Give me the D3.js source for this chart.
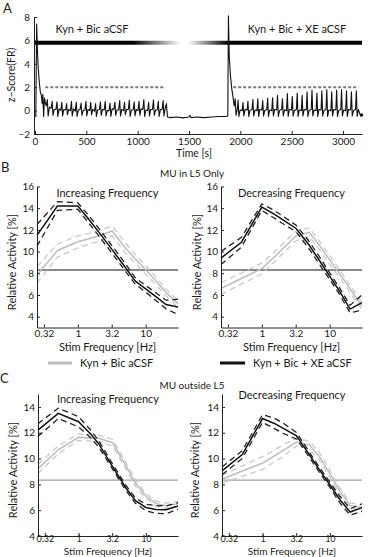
<!DOCTYPE html>
<html>
<head>
<meta charset="utf-8">
<script src="https://cdn.jsdelivr.net/npm/d3@7"></script>
<style>
  body { margin: 0; background: #fff; }
  svg text { font-family: Lato, "Open Sans", sans-serif; fill: #1a1a1a; }
</style>
</head>
<body>
<svg id="chart"></svg>
<script>
(() => {

  // panel A: z-score trace over time
  const timeTicks = [0, 500, 1000, 1500, 2000, 2500, 3000];
  const zTicks = [-2, 0, 2, 4, 6, 8];
  const conditionLabels = ['Kyn + Bic aCSF', 'Kyn + Bic + XE aCSF'];
  const thresholdZ = 2;
  const thresholdSpans = [[100, 1270], [1930, 3150]];
  const barZ = 5.8;
  const trace = [
    [0,-0.4],[8,-0.5],[16,7.4],[24,5.0],[32,3.6],[42,2.4],[52,1.6],[62,1.3],[70,0.6],[76,1.4],[84,-0.5],[92,1.1],[102,0.6],
    [110,0.4],[120,0.95],[128,-0.45],[140,0.3],
    [157,0.2],[167,0.8],[175,-0.4],[187,0.1],
    [204,0.1],[214,0.75],[222,-0.5],[234,0.15],
    [251,0.0],[261,0.7],[269,-0.45],[281,0.1],
    [298,0.05],[308,0.6],[316,-0.35],[328,0.1],
    [345,0.0],[355,0.8],[363,-0.45],[375,0.15],
    [392,-0.05],[402,0.7],[410,-0.5],[422,0.05],
    [439,0.1],[449,0.65],[457,-0.4],[469,0.0],
    [486,0.05],[496,0.8],[504,-0.45],[516,0.1],
    [533,0.0],[543,0.7],[551,-0.35],[563,0.1],
    [580,-0.05],[590,0.6],[598,-0.5],[610,0.05],
    [627,0.1],[637,0.75],[645,-0.4],[657,0.1],
    [674,0.05],[684,0.8],[692,-0.45],[704,0.0],
    [721,0.0],[731,0.65],[739,-0.5],[751,0.15],
    [768,0.1],[778,0.7],[786,-0.4],[798,0.05],
    [815,0.05],[825,0.85],[833,-0.45],[845,0.1],
    [862,0.0],[872,0.7],[880,-0.35],[892,0.1],
    [909,0.1],[919,0.9],[927,-0.5],[939,0.05],
    [956,0.05],[966,0.75],[974,-0.45],[986,0.1],
    [1003,0.0],[1013,0.8],[1021,-0.4],[1033,0.15],
    [1050,0.1],[1060,0.95],[1068,-0.5],[1080,0.05],
    [1097,0.0],[1107,0.7],[1115,-0.45],[1127,0.1],
    [1144,0.1],[1154,0.9],[1162,-0.4],[1174,0.05],
    [1191,0.05],[1201,0.8],[1209,-0.5],[1221,0.1],
    [1238,0.1],[1248,0.85],[1256,-0.45],[1268,0.2],
    [1280,0.6],[1290,-0.55],[1320,-0.6],[1380,-0.55],[1440,-0.62],[1500,-0.55],[1510,-0.4],[1520,-0.6],
    [1580,-0.55],[1650,-0.6],[1720,-0.55],[1790,-0.5],[1860,-0.5],[1878,-0.45],
    [1884,8.1],[1892,4.6],[1904,3.0],[1916,1.9],[1928,1.2],[1940,0.4],[1950,1.0],[1958,-0.4],
    [1970,0.1],[1978,0.9],[1986,-0.5],[1998,0.05],
    [2018,0.0],[2026,0.7],[2034,-0.45],[2046,0.1],
    [2066,0.05],[2074,0.8],[2082,-0.5],[2094,0.0],
    [2114,0.1],[2122,0.95],[2130,-0.45],[2142,0.05],
    [2162,0.0],[2170,1.0],[2178,-0.5],[2190,0.1],
    [2210,0.05],[2218,0.85],[2226,-0.45],[2238,0.0],
    [2258,0.1],[2266,1.05],[2274,-0.5],[2286,0.05],
    [2306,0.0],[2314,1.1],[2322,-0.45],[2334,0.1],
    [2354,0.05],[2362,1.3],[2370,-0.5],[2382,0.0],
    [2402,0.1],[2410,1.0],[2418,-0.45],[2430,0.05],
    [2450,0.0],[2458,1.45],[2466,-0.5],[2478,0.1],
    [2498,0.05],[2506,1.2],[2514,-0.45],[2526,0.0],
    [2546,0.1],[2554,1.5],[2562,-0.5],[2574,0.05],
    [2594,0.0],[2602,1.3],[2610,-0.45],[2622,0.1],
    [2642,0.05],[2650,1.6],[2658,-0.5],[2670,0.0],
    [2690,0.1],[2698,1.75],[2706,-0.45],[2718,0.05],
    [2738,0.0],[2746,1.5],[2754,-0.5],[2766,0.1],
    [2786,0.05],[2794,1.7],[2802,-0.45],[2814,0.0],
    [2834,0.1],[2842,1.8],[2850,-0.5],[2862,0.05],
    [2882,0.0],[2890,1.6],[2898,-0.45],[2910,0.1],
    [2930,0.05],[2938,1.75],[2946,-0.5],[2958,0.0],
    [2978,0.1],[2986,1.8],[2994,-0.45],[3006,0.05],
    [3026,0.0],[3034,1.7],[3042,-0.5],[3054,0.1],
    [3074,0.05],[3082,1.6],[3090,-0.45],[3102,0.0],
    [3122,0.1],[3130,1.7],[3138,-0.5],[3150,0.1],
    [3165,-0.3],[3178,-0.45],[3182,-0.3]
  ];

  // panels B and C: relative activity vs stim frequency
  const freqs = [0.25, 0.5, 1, 1.5, 2, 3.2, 5, 7, 10, 14, 20, 30];
  const freqTicks = [0.316, 1, 3.16, 10];
  const freqTickLabels = ['0.32', '1', '3.2', '10'];
  const ticksB = [4, 6, 8, 10, 12, 14, 16];
  const ticksC = [4, 6, 8, 10, 12, 14];
  const refLevelB = 8.3;
  const refLevelC = 8.33;

  const bIncCtrl    = [7.85, 10.1, 10.9, 11.2, 11.43, 11.9, 10.35, 9.34, 8.32, 7.34, 6.22, 5.2];
  const bIncCtrlSem = [0.75, 0.6, 0.55, 0.5, 0.5, 0.45, 0.45, 0.4, 0.4, 0.35, 0.3, 0.3];
  const bIncXE      = [11.5, 14.2, 14.2, 12.87, 11.86, 10.18, 8.56, 7.3, 6.57, 5.87, 5.12, 4.9];
  const bIncXESem   = [1.0, 0.4, 0.3, 0.35, 0.35, 0.35, 0.35, 0.3, 0.3, 0.35, 0.4, 0.7];

  const bDecCtrl    = [6.6, 7.52, 8.43, 9.45, 10.21, 11.45, 11.78, 10.62, 9.24, 7.96, 6.59, 4.95];
  const bDecCtrlSem = [0.55, 0.5, 0.5, 0.45, 0.45, 0.45, 0.4, 0.4, 0.4, 0.35, 0.35, 0.3];
  const bDecXE      = [9.4, 10.86, 14.1, 13.47, 12.96, 12.13, 10.58, 9.22, 7.74, 6.35, 4.7, 5.3];
  const bDecXESem   = [0.6, 0.45, 0.3, 0.35, 0.35, 0.3, 0.35, 0.35, 0.3, 0.3, 0.35, 0.7];

  const cIncCtrl    = [9.2, 10.68, 11.65, 11.6, 11.57, 11.23, 9.5, 8.1, 7.1, 6.52, 6.34, 6.5];
  const cIncCtrlSem = [0.35, 0.3, 0.25, 0.25, 0.25, 0.25, 0.25, 0.25, 0.2, 0.2, 0.2, 0.2];
  const cIncXE      = [12.2, 13.5, 12.85, 11.93, 11.13, 9.38, 7.76, 6.74, 6.21, 6.06, 6.03, 6.33];
  const cIncXESem   = [0.5, 0.4, 0.4, 0.3, 0.25, 0.2, 0.2, 0.2, 0.25, 0.3, 0.3, 0.25];

  const cDecCtrl    = [8.4, 9.03, 9.65, 10.2, 10.61, 11.28, 11.04, 10.15, 8.83, 7.47, 6.37, 6.2];
  const cDecCtrlSem = [0.3, 0.4, 0.5, 0.45, 0.45, 0.3, 0.3, 0.3, 0.3, 0.25, 0.2, 0.2];
  const cDecXE      = [9.05, 10.31, 13.1, 12.72, 12.36, 11.76, 10.27, 9.12, 7.97, 6.83, 5.86, 6.2];
  const cDecXESem   = [0.3, 0.3, 0.3, 0.4, 0.4, 0.25, 0.2, 0.2, 0.2, 0.25, 0.25, 0.3];

  const grayCol = '#bdbdbd';
  const grayDash = '#c9c9c9';
  const blackCol = '#111';

  document.addEventListener("DOMContentLoaded", () => {
    const svg = d3.select('#chart').attr('width', 372).attr('height', 557);
    svg.append('rect').attr('width', 372).attr('height', 557).attr('fill', '#fff');
    drawPanelA(svg);

    svg.append('text').attr('x', 1).attr('y', 172).attr('font-size', 13).text('B');
    svg.append('text').attr('x', 192).attr('y', 177).attr('font-size', 10).attr('text-anchor', 'middle').text('MU in L5 Only');
    drawFreqPanel(svg, { x0: 37, x1: 178, y0: 327.5, y1: 186.5, domain: [3, 16], ticks: ticksB,
      ctrl: bIncCtrl, ctrlSem: bIncCtrlSem, xe: bIncXE, xeSem: bIncXESem, ref: refLevelB, refCol: '#111',
      title: 'Increasing Frequency', titleY: 197, xLabelY: 351, pad: 2, tickFont: 10, labelSize: 11, yTitleX: 16 });
    drawFreqPanel(svg, { x0: 221, x1: 362, y0: 327.5, y1: 186.5, domain: [3, 16], ticks: ticksB,
      ctrl: bDecCtrl, ctrlSem: bDecCtrlSem, xe: bDecXE, xeSem: bDecXESem, ref: refLevelB, refCol: '#111',
      title: 'Decreasing Frequency', titleY: 197, xLabelY: 351, pad: 2, tickFont: 10, labelSize: 11, yTitleX: 201 });

    drawLegend(svg);

    svg.append('text').attr('x', 0).attr('y', 383).attr('font-size', 13).text('C');
    svg.append('text').attr('x', 192).attr('y', 389).attr('font-size', 10).attr('text-anchor', 'middle').text('MU outside L5');
    drawFreqPanel(svg, { x0: 38, x1: 178, y0: 536, y1: 394, domain: [4, 15], ticks: ticksC,
      ctrl: cIncCtrl, ctrlSem: cIncCtrlSem, xe: cIncXE, xeSem: cIncXESem, ref: refLevelC, refCol: '#8c8c8c',
      title: 'Increasing Frequency', titleY: 403, xLabelY: 554.5, pad: 0, tickFont: 9, labelSize: 10, yTitleX: 17 });
    drawFreqPanel(svg, { x0: 222, x1: 362, y0: 536, y1: 394, domain: [4, 15], ticks: ticksC,
      ctrl: cDecCtrl, ctrlSem: cDecCtrlSem, xe: cDecXE, xeSem: cDecXESem, ref: refLevelC, refCol: '#8c8c8c',
      title: 'Decreasing Frequency', titleY: 399, xLabelY: 554.5, pad: 0, tickFont: 9, labelSize: 10, yTitleX: 199 });
  });

  function styleAxis(g, size = 10) {
    g.selectAll('path.domain').attr('stroke', '#222').attr('stroke-width', 1);
    g.selectAll('.tick line').attr('stroke', '#222');
    g.selectAll('.tick text').attr('font-size', size).attr('fill', '#1a1a1a')
      .style('font-family', 'Lato, "Open Sans", sans-serif');
  }

  function drawPanelA(svg) {
    const x = d3.scaleLinear().domain([0, 3185]).range([35, 362]);
    const y = d3.scaleLinear().domain([-2, 8]).range([134, 17]);

    svg.append('text').attr('x', 3).attr('y', 13).attr('font-size', 13).text('A');

    const defs = svg.append('defs');
    const grad = defs.append('linearGradient').attr('id', 'fade')
      .attr('gradientUnits', 'userSpaceOnUse')
      .attr('x1', x(0)).attr('x2', x(3185)).attr('y1', 0).attr('y2', 0);
    [[0, '#000'], [950, '#000'], [1420, '#fff'], [1490, '#fff'], [1880, '#000'], [3185, '#000']]
      .forEach(([t, c]) => grad.append('stop').attr('offset', t / 3185).attr('stop-color', c));

    svg.append('line')
      .attr('x1', x(0)).attr('x2', x(3185)).attr('y1', y(barZ)).attr('y2', y(barZ))
      .attr('stroke', 'url(#fade)').attr('stroke-width', 4);

    thresholdSpans.forEach(([a, b]) => {
      svg.append('line')
        .attr('x1', x(a)).attr('x2', x(b)).attr('y1', y(thresholdZ)).attr('y2', y(thresholdZ))
        .attr('stroke', '#7a7a7a').attr('stroke-width', 2).attr('stroke-dasharray', '3,2');
    });

    svg.append('path')
      .datum(trace)
      .attr('d', d3.line().x(d => x(d[0])).y(d => y(d[1])))
      .attr('fill', 'none').attr('stroke', '#111').attr('stroke-width', 1.1)
      .attr('stroke-linejoin', 'round');

    svg.append('circle').attr('cx', x(3180)).attr('cy', y(-0.38)).attr('r', 1.8).attr('fill', '#111');

    const gx = svg.append('g').attr('transform', `translate(0,${y(-2)})`)
      .call(d3.axisBottom(x).tickValues(timeTicks).tickSizeInner(-3).tickSizeOuter(0).tickPadding(4)
        .tickFormat(d3.format('d')));
    styleAxis(gx);
    const gy = svg.append('g').attr('transform', `translate(${x(0) - 1},0)`)
      .call(d3.axisLeft(y).tickValues(zTicks).tickSizeInner(-3).tickSizeOuter(0).tickPadding(4)
        .tickFormat(d => d < 0 ? '\u2212' + Math.abs(d) : d));
    styleAxis(gy);

    svg.append('text').attr('x', 92).attr('y', 33).attr('font-size', 11).attr('text-anchor', 'middle').text(conditionLabels[0]);
    svg.append('text').attr('x', 297).attr('y', 33).attr('font-size', 11).attr('text-anchor', 'middle').text(conditionLabels[1]);

    svg.append('text').attr('transform', 'translate(15,75) rotate(-90)')
      .attr('font-size', 10.5).attr('text-anchor', 'middle').text('z\u2212Score(FR)');
    svg.append('text').attr('x', 194).attr('y', 157).attr('font-size', 10.5)
      .attr('text-anchor', 'middle').text('Time [s]');
  }

  function drawFreqPanel(svg, o) {
    const x = d3.scaleLog().domain([0.25, 30]).range([o.x0, o.x1]);
    const y = d3.scaleLinear().domain(o.domain).range([o.y0, o.y1]);
    const g = svg.append('g');

    const line = d3.line().x((d, i) => x(freqs[i])).y(d => y(d));

    g.append('line').attr('x1', o.x0).attr('x2', o.x1).attr('y1', y(o.ref)).attr('y2', y(o.ref))
      .attr('stroke', o.refCol).attr('stroke-width', 1);

    const drawSeries = (mean, sem, col, dashCol) => {
      const upper = mean.map((v, i) => v + sem[i]);
      const lower = mean.map((v, i) => v - sem[i]);
      [upper, lower].forEach(band => {
        g.append('path').datum(band).attr('d', line)
          .attr('fill', 'none').attr('stroke', dashCol).attr('stroke-width', 1.3)
          .attr('stroke-dasharray', '6,4');
      });
      g.append('path').datum(mean).attr('d', line)
        .attr('fill', 'none').attr('stroke', col).attr('stroke-width', 1.5);
    };
    drawSeries(o.ctrl, o.ctrlSem, grayCol, grayDash);
    drawSeries(o.xe, o.xeSem, blackCol, '#222');

    const gx = g.append('g').attr('transform', `translate(0,${o.y0})`)
      .call(d3.axisBottom(x).tickValues(freqTicks).tickSizeInner(-3).tickSizeOuter(0).tickPadding(o.pad)
        .tickFormat((d, i) => freqTickLabels[i]));
    styleAxis(gx, o.tickFont);
    const gy = g.append('g').attr('transform', `translate(${o.x0},0)`)
      .call(d3.axisLeft(y).tickValues(o.ticks).tickSizeInner(-3).tickSizeOuter(0).tickPadding(3));
    styleAxis(gy);

    g.append('text').attr('x', (o.x0 + o.x1) / 2).attr('y', o.titleY).attr('font-size', 11)
      .attr('text-anchor', 'middle').text(o.title);
    g.append('text').attr('x', (o.x0 + o.x1) / 2).attr('y', o.xLabelY).attr('font-size', o.labelSize)
      .attr('text-anchor', 'middle').text('Stim Frequency [Hz]');
    g.append('text').attr('transform', `translate(${o.yTitleX},${(o.y0 + o.y1) / 2 + 5}) rotate(-90)`)
      .attr('font-size', 11).attr('text-anchor', 'middle').text('Relative Activity [%]');
  }

  function drawLegend(svg) {
    svg.append('line').attr('x1', 48).attr('x2', 72).attr('y1', 363).attr('y2', 363)
      .attr('stroke', grayCol).attr('stroke-width', 3);
    svg.append('text').attr('x', 80).attr('y', 367).attr('font-size', 11).text(conditionLabels[0]);
    svg.append('line').attr('x1', 220).attr('x2', 245).attr('y1', 363).attr('y2', 363)
      .attr('stroke', blackCol).attr('stroke-width', 3);
    svg.append('text').attr('x', 253).attr('y', 367).attr('font-size', 11).text(conditionLabels[1]);
  }

})();
</script>
</body>
</html>
